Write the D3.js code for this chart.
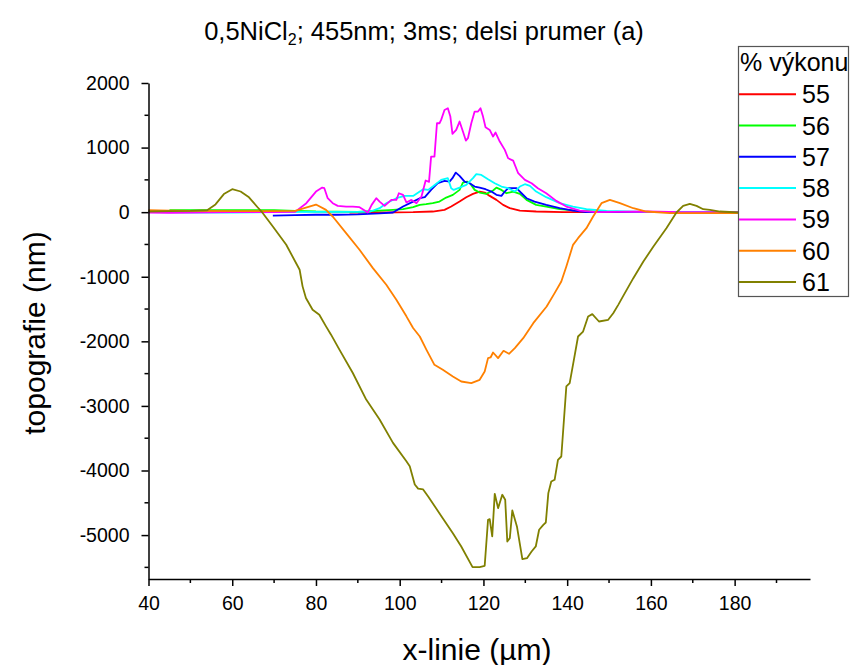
<!DOCTYPE html>
<html>
<head>
<meta charset="utf-8">
<script src="https://cdn.jsdelivr.net/npm/d3@7"></script>
<style>
  html, body { margin: 0; padding: 0; background: #fff; }
  svg { display: block; font-family: "Liberation Sans", Arial, sans-serif; }
</style>
</head>
<body>
<svg id="chart" width="850" height="665"></svg>
<script>
// ---- data (x in µm, topografie in nm) ----
const legendTitle = "% výkonu";
const seriesNames = ["55", "56", "57", "58", "59", "60", "61"];
const seriesColors = ["#ff0000", "#00ff00", "#0000ff", "#00ffff", "#ff00ff", "#ff8000", "#808000"];
const xTicks = [40, 60, 80, 100, 120, 140, 160, 180];
const yTicks = [-5000, -4000, -3000, -2000, -1000, 0, 1000, 2000];

const s55 = [[88,-5],[95.2,-5],[103.2,0],[107.9,10],[110.7,36],[112.3,87],[114.3,164],[115.9,232],[117.5,283],[119.1,319],[120.3,304],[121.5,252],[123.1,190],[124.7,113],[126.3,62],[128.7,25],[132.6,10],[139,0],[190,0]];
const s56 = [[45,30],[50,32],[60,30],[70,30],[75,20],[80,10],[90,5],[95.2,25],[98.4,36],[100.8,46],[103.2,77],[104.8,113],[106.3,123],[107.9,139],[109.5,164],[111.1,226],[112.7,268],[114.3,345],[115.1,459],[116.1,474],[116.9,438],[117.9,345],[119.1,304],[120.7,283],[122.3,335],[123.1,381],[124.3,345],[125.5,293],[127.1,319],[128.7,283],[130.3,190],[132.6,113],[135,87],[138.2,46],[143,20],[150,5],[190,0]];
const s57 = [[69.7,-52],[75,-45],[80,-40],[85,-40],[90,-35],[95.2,-20],[98.4,-5],[100.8,87],[103.2,164],[104.8,216],[106,232],[107.5,345],[109.1,448],[110.7,484],[111.9,474],[112.6,526],[113.4,613],[114.3,562],[115.5,474],[116.7,448],[117.9,397],[119.1,381],[120.5,355],[121.9,319],[123.1,268],[124.3,252],[125.1,319],[125.9,371],[127.9,371],[129.1,293],[130.3,216],[132.2,164],[135,113],[138.2,62],[141.4,25],[144.6,0],[190,0]];
const s58 = [[40,0],[50,-5],[60,-5],[70,0],[80,5],[90,5],[93,10],[95.2,62],[96.8,139],[99.2,216],[101.2,252],[103.2,252],[105.6,355],[106.8,345],[107.9,397],[109.9,500],[111.5,526],[112.3,371],[112.9,345],[114.3,381],[115.9,423],[117.5,526],[118.3,588],[119.5,577],[121.1,510],[122.7,448],[124.3,397],[125.9,371],[127.5,319],[128.7,397],[129.9,433],[131.1,407],[132.6,319],[135,232],[138.2,139],[141.4,87],[144.6,46],[149.4,20],[159,5],[190,0]];
const s59 = [[40,-5],[45,-10],[50,-5],[60,0],[70,0],[75,5],[77.7,139],[80,319],[81.5,381],[82,371],[82.8,216],[84,139],[85.2,97],[87.2,87],[88.8,87],[90.4,77],[92.4,-5],[93.3,113],[94.4,216],[95.2,164],[96.4,97],[98,190],[99.2,190],[99.8,293],[100.8,268],[101.6,150],[102.8,190],[104,139],[105.2,242],[106.2,490],[107,470],[107.5,861],[108.3,861],[108.9,1377],[109.5,1377],[109.9,1429],[110.7,1583],[111.5,1609],[112.1,1480],[112.6,1212],[113.5,1274],[114.3,1403],[115.1,1248],[115.8,1109],[116.3,1145],[117.1,1377],[117.9,1558],[118.7,1558],[119.3,1609],[119.9,1480],[120.5,1315],[121.5,1274],[122.3,1171],[122.9,1233],[123.9,1093],[125.1,964],[125.9,835],[127.1,799],[128.3,603],[129.9,500],[131.5,448],[133,371],[135,293],[137.4,175],[139.8,87],[143,25],[147,0],[159,10],[167,0],[190,0]];
const s60 = [[40,30],[45,25],[50,20],[60,15],[70,15],[75,20],[77,60],[80,118],[82.4,36],[84,-67],[87.2,-325],[90.4,-582],[93.6,-866],[96.8,-1124],[99.2,-1356],[101.6,-1613],[103.2,-1794],[104.8,-1925],[106.4,-2131],[108.3,-2364],[110.3,-2441],[112.7,-2544],[114.7,-2622],[117.1,-2647],[119.1,-2596],[120.3,-2467],[121.1,-2260],[121.7,-2250],[122.3,-2173],[123.5,-2260],[124.8,-2147],[126.1,-2193],[127.5,-2106],[129.5,-1951],[131.9,-1719],[135.1,-1461],[137,-1254],[138.6,-1074],[139.8,-841],[141.4,-506],[142.6,-403],[144.6,-248],[146.2,-67],[148.2,139],[150.2,190],[152.6,139],[155.8,61],[158.9,10],[164.5,-16],[190,-16]];
const s61 = [[40,10],[45,15],[50,20],[54,30],[56,120],[58,280],[60,355],[62,320],[64,230],[66,80],[67,10],[69.7,-222],[72.9,-505],[76.1,-892],[76.8,-1149],[77.6,-1330],[79.2,-1510],[80.8,-1588],[82.4,-1768],[83.6,-1897],[85.6,-2129],[88.8,-2490],[92,-2902],[95.2,-3211],[98.4,-3572],[101.6,-3856],[102.4,-3933],[103.6,-4216],[104.4,-4280],[105.6,-4294],[106.8,-4402],[110,-4712],[112.7,-4970],[114.7,-5176],[117.4,-5496],[119.1,-5496],[120.3,-5475],[121.1,-4763],[121.5,-4753],[122.1,-5021],[122.7,-4361],[123.5,-4583],[124.5,-4376],[125.2,-4454],[125.7,-5099],[126.3,-5047],[126.9,-4618],[128,-4866],[129.3,-5372],[130.4,-5357],[131.5,-5254],[132.5,-5176],[133.3,-4918],[134.3,-4841],[134.9,-4805],[135.5,-4350],[136.2,-4170],[137,-4144],[137.8,-3834],[138.6,-3783],[139.8,-2699],[140.6,-2647],[141.6,-2286],[142.6,-1925],[143.8,-1848],[145,-1615],[146,-1579],[147.6,-1693],[149.8,-1667],[151,-1564],[152.2,-1435],[153.4,-1296],[155.8,-1022],[158.2,-764],[160.6,-532],[163.7,-248],[166.1,-5],[167.7,98],[169.3,129],[170.9,98],[172.5,46],[174.1,36],[176.5,10],[181,-5],[190,-5]];
const seriesData = [s55, s56, s57, s58, s59, s60, s61];

// ---- layout ----
const svg = d3.select("#chart");
const x = d3.scaleLinear().domain([40, 198]).range([148.5, 810]);
const y = d3.scaleLinear().domain([-5680, 2000]).range([579, 83]);

// title
const title = svg.append("text").attr("x", 424).attr("y", 40)
  .attr("text-anchor", "middle").attr("font-size", 25.5).attr("fill", "#000");
title.append("tspan").text("0,5NiCl");
title.append("tspan").attr("font-size", 16).attr("dy", 5).text("2");
title.append("tspan").attr("dy", -5).text("; 455nm; 3ms; delsi prumer (a)");

// lines
const line = d3.line().x(d => x(d[0])).y(d => y(d[1]));
svg.append("g").selectAll("path").data(seriesData).join("path")
  .attr("d", line).attr("fill", "none")
  .attr("stroke", (d, i) => seriesColors[i]).attr("stroke-width", 1.8)
  .attr("stroke-linejoin", "round");

// axes
const fmt = d => String(d);
const xAxis = svg.append("g").attr("transform", `translate(0,${y(-5680)})`)
  .call(d3.axisBottom(x).tickValues(xTicks).tickFormat(fmt).tickSize(7).tickSizeOuter(0).tickPadding(10));
xAxis.append("g").selectAll("line").data(d3.range(50, 200, 20)).join("line")
  .attr("x1", d => x(d)).attr("x2", d => x(d)).attr("y1", 0).attr("y2", 4).attr("stroke", "#000").attr("stroke-width", 1.5);
const yAxis = svg.append("g").attr("transform", `translate(${x(40)},0)`)
  .call(d3.axisLeft(y).tickValues(yTicks).tickFormat(fmt).tickSize(7).tickSizeOuter(0).tickPadding(12));
yAxis.append("g").selectAll("line").data(d3.range(-5500, 2000, 1000)).join("line")
  .attr("y1", d => y(d)).attr("y2", d => y(d)).attr("x1", 0).attr("x2", -4).attr("stroke", "#000").attr("stroke-width", 1.5);
[xAxis, yAxis].forEach(a => {
  a.selectAll(".domain").attr("stroke", "#000").attr("stroke-width", 1.5);
  a.selectAll(".tick line").attr("stroke", "#000").attr("stroke-width", 1.5);
  a.selectAll(".tick text").attr("font-size", 19.5).attr("fill", "#000")
    .attr("font-family", "Liberation Sans, Arial, sans-serif");
});

// axis labels
svg.append("text").attr("x", 477).attr("y", 660).attr("text-anchor", "middle")
  .attr("font-size", 30).attr("fill", "#000").text("x-linie (µm)");
svg.append("text").attr("transform", "translate(45,333) rotate(-90)").attr("text-anchor", "middle")
  .attr("font-size", 30).attr("fill", "#000").text("topografie (nm)");

// legend
const lg = svg.append("g");
lg.append("rect").attr("x", 738.5).attr("y", 46.5).attr("width", 110).attr("height", 250)
  .attr("fill", "#fff").attr("stroke", "#555").attr("stroke-width", 1.2);
lg.append("text").attr("x", 740).attr("y", 71).attr("font-size", 25).attr("fill", "#000").text(legendTitle);
seriesNames.forEach((n, i) => {
  const yy = 94.2 + i * 31.3;
  lg.append("line").attr("x1", 739).attr("x2", 796).attr("y1", yy).attr("y2", yy)
    .attr("stroke", seriesColors[i]).attr("stroke-width", 2);
  lg.append("text").attr("x", 802).attr("y", yy + 9).attr("font-size", 25).attr("fill", "#000").text(n);
});
</script>
</body>
</html>
